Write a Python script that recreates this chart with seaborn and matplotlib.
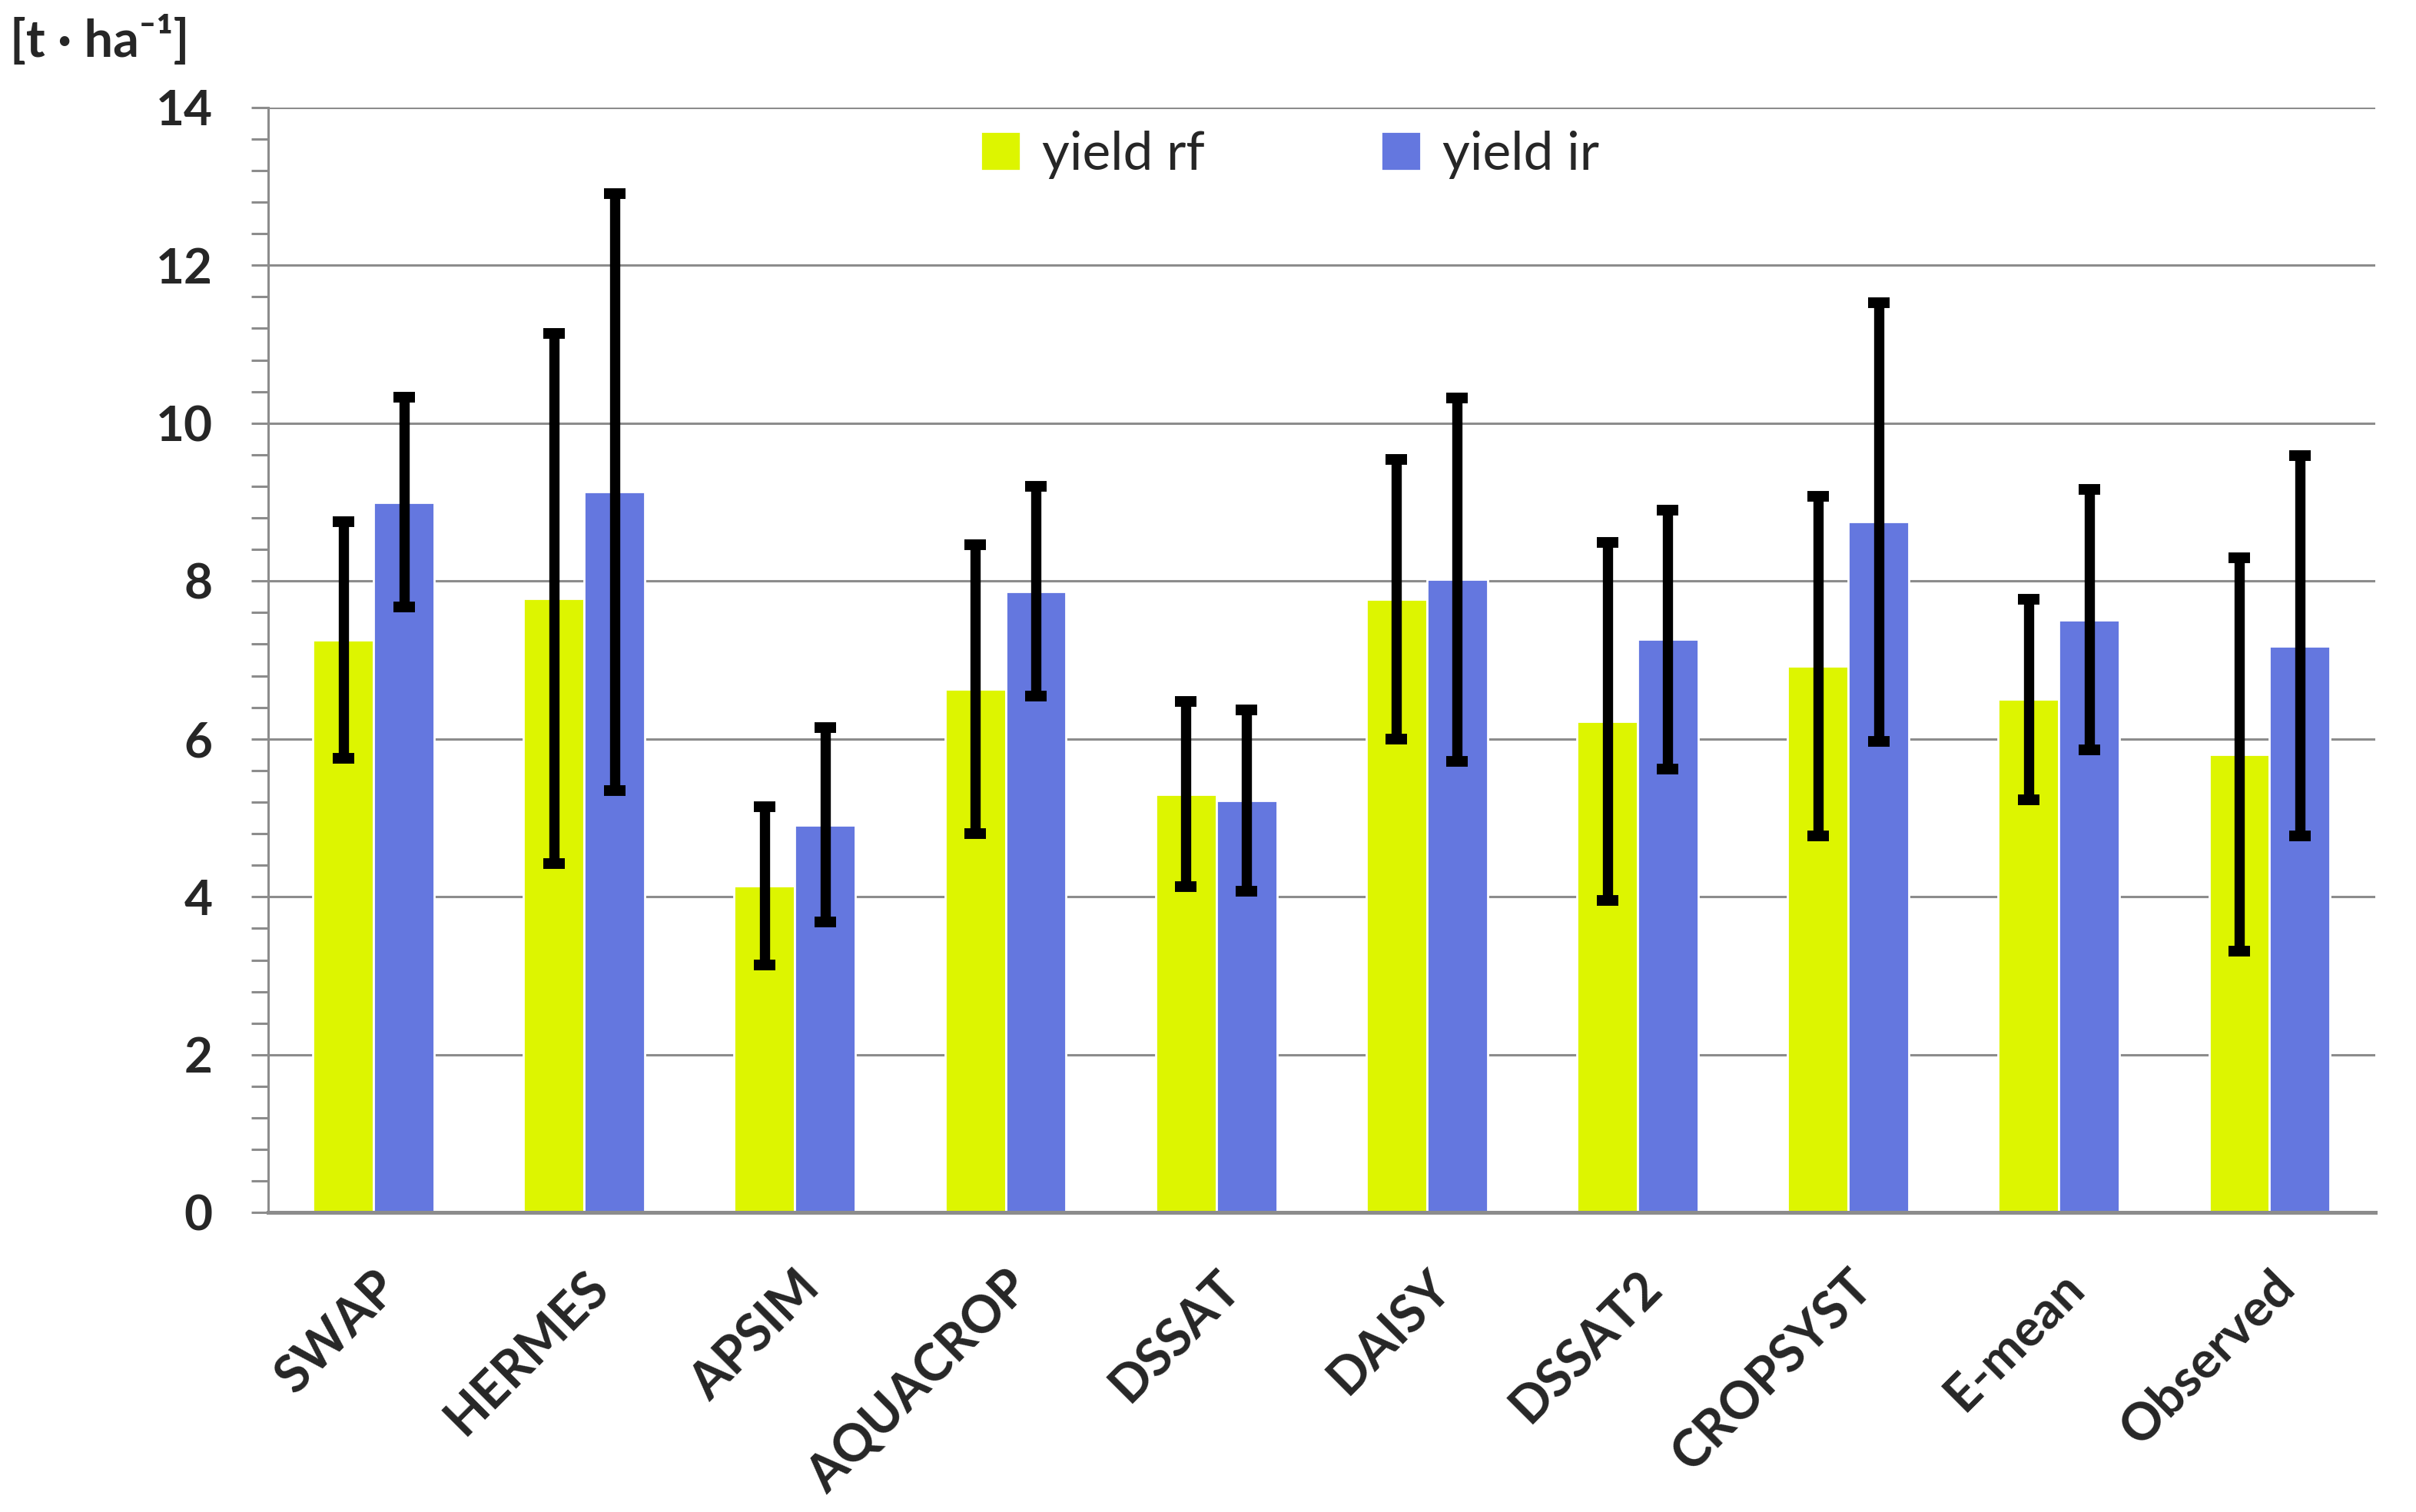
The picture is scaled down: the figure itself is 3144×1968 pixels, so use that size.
import matplotlib
matplotlib.use("Agg")
import matplotlib.pyplot as plt
import numpy as np
import pandas as pd
import seaborn as sns
from matplotlib.ticker import MultipleLocator

models = ["SWAP", "HERMES", "APSIM", "AQUACROP", "DSSAT", "DAISY",
          "DSSAT2", "CROPSYST", "E-mean", "Observed"]
yield_rf = [7.25, 7.78, 4.14, 6.63, 5.30, 7.77, 6.22, 6.92, 6.50, 5.80]
yield_ir = [9.00, 9.13, 4.91, 7.87, 5.22, 8.02, 7.26, 8.75, 7.51, 7.18]
err_rf = [1.50, 3.36, 1.00, 1.83, 1.17, 1.77, 2.27, 2.15, 1.27, 2.49]
err_ir = [1.33, 3.78, 1.23, 1.33, 1.15, 2.30, 1.64, 2.78, 1.65, 2.41]
series = ["yield rf", "yield ir"]
colors = ["#DDF500", "#6477DF"]

df = pd.DataFrame({
    "model": models * 2,
    "series": [series[0]] * len(models) + [series[1]] * len(models),
    "value": yield_rf + yield_ir,
    "err": err_rf + err_ir,
})

sns.set_style("white")
plt.rcParams["font.family"] = ["Lato", "DejaVu Sans"]

fig = plt.figure(figsize=(15.72, 9.84), dpi=200)
ax = fig.add_axes([0.111, 0.198, 0.872, 0.731])

sns.barplot(data=df, x="model", y="value", hue="series", palette=colors,
            width=0.576, errorbar=None, saturation=1, ax=ax, zorder=2)

# error bars at the bar centres that seaborn laid out
for cont, s in zip(ax.containers, series):
    sub = df[df["series"] == s]
    xs = [p.get_x() + p.get_width() / 2 for p in cont.patches]
    ax.errorbar(xs, sub["value"], yerr=sub["err"], fmt="none", ecolor="black",
                elinewidth=4.8, capsize=5, capthick=5, zorder=3)

ax.set_ylim(0, 14)
ax.set_xlim(-0.5, len(models) - 0.5)
ax.yaxis.set_major_locator(MultipleLocator(2))
ax.yaxis.set_minor_locator(MultipleLocator(0.4))
ax.grid(axis="y", color="#8c8c8c", linewidth=1.1, zorder=0)
ax.set_axisbelow(True)
for side in ["top", "right"]:
    ax.spines[side].set_visible(False)
ax.spines["left"].set_color("#8c8c8c")
ax.spines["left"].set_linewidth(1.1)
ax.spines["bottom"].set_color("#8c8c8c")
ax.spines["bottom"].set_linewidth(1.8)

ax.tick_params(axis="y", which="both", left=True, length=8, width=1.1,
               color="#8c8c8c", direction="out")
ax.tick_params(axis="y", which="major", pad=18, labelsize=23)
ax.tick_params(axis="x", bottom=False, pad=20, labelsize=24)
for lab in ax.get_yticklabels():
    lab.set_fontweight("bold")
ax.set_xticks(range(len(models)))
ax.set_xticklabels(models, rotation=45, ha="right", rotation_mode="anchor",
                   fontweight="bold")
ax.set_xlabel("")
ax.set_ylabel("")

ax.legend(loc="center", bbox_to_anchor=(0.485, 0.957), ncol=2, frameon=False,
          fontsize=25, handlelength=0.75, handleheight=0.75, handletextpad=0.4,
          columnspacing=3.3)

fig.text(0.004, 0.99, "[t · ha⁻¹]", ha="left", va="top", fontsize=24,
         fontweight="bold")

fig.savefig("out.png", dpi=200)
